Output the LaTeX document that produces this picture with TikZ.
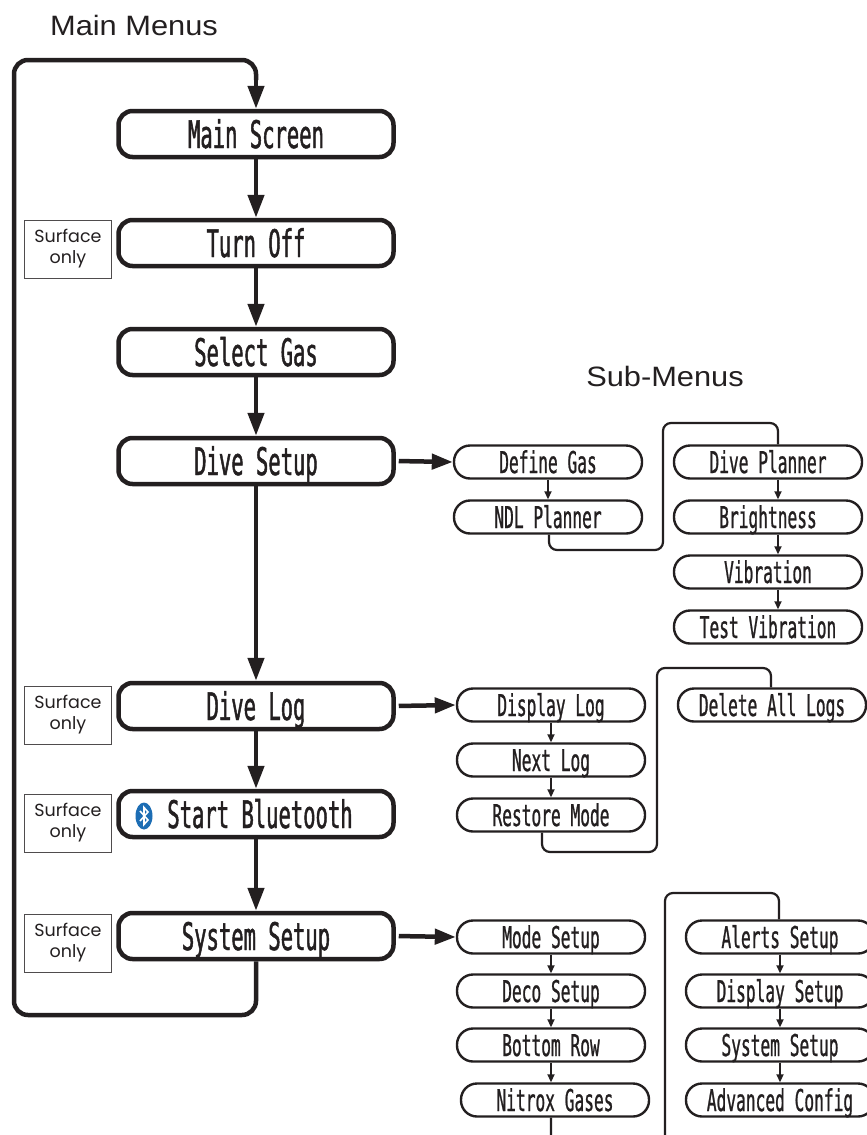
\documentclass[tikz,border=0pt]{standalone}
\usepackage{fontspec}
\usetikzlibrary{arrows.meta,calc,shapes.geometric}
\newfontfamily\lcdfont[FakeStretch=0.54, FakeBold=0.8]{DejaVu Sans Mono}
\newfontfamily\lcdmainfont[FakeStretch=0.54, FakeBold=1.2]{DejaVu Sans Mono}
\newfontfamily\smallsans{Poppins}
\newfontfamily\headfont[FakeStretch=1.1]{Liberation Sans}
\definecolor{ink}{HTML}{231F20}
\definecolor{btblue}{HTML}{1C6DB4}
\tikzset{
  mainbox/.style={draw=ink, line width=4.5pt, rounded corners=14pt, minimum width=275pt, minimum height=46pt, inner sep=0pt, text height=28pt, text depth=0pt, font=\fontsize{38}{40}\selectfont\lcdmainfont, text=ink},
  subbox/.style={draw=ink, line width=2.4pt, rounded corners=16pt, minimum width=188pt, minimum height=33pt, inner sep=0pt, text height=22pt, text depth=0pt, font=\fontsize{30}{32}\selectfont\lcdfont, text=ink},
  surfbox/.style={draw=ink!80, line width=1pt, minimum width=87pt, minimum height=58pt, inner sep=0pt, align=center, font=\fontsize{17.5}{21}\selectfont\smallsans, text=ink},
  mainarrow/.style={draw=ink, line width=4.5pt, -{Triangle[length=23pt,width=16pt]}},
  sidearrow/.style={draw=ink, line width=4.5pt, -{Triangle[length=21pt,width=15pt]}, shorten <=3pt},
  mainline/.style={draw=ink, line width=4.5pt, rounded corners=14pt},
  subarrow/.style={draw=ink, line width=1.8pt, -{Triangle[length=8pt,width=7pt]}},
  subline/.style={draw=ink, line width=2.2pt, rounded corners=8pt},
  heading/.style={font=\fontsize{28}{30}\selectfont\headfont, text=ink, inner sep=0pt}
}
\begin{document}
\begin{tikzpicture}[x=1pt, y=-1pt]
\useasboundingbox (0,0) rectangle (867,1135);
\clip (0,0) rectangle (867,1135);
\fill[white] (0,0) rectangle (867,1135);

% headings
\node[heading] (hmain) at (134,25) {Main Menus};
\node[heading] (hsub) at (665,376) {Sub-Menus};

% main column
\node[mainbox] (ms) at (256,134) {Main Screen};
\node[mainbox] (to) at (256,243) {Turn Off};
\node[mainbox] (sg) at (256,352) {Select Gas};
\node[mainbox] (ds) at (256,461) {Dive Setup};
\node[mainbox] (dl) at (256,706) {Dive Log};
\node[mainbox] (bt) at (256,814) {\hspace{8pt}Start Bluetooth};
\node[mainbox] (ss) at (256,936) {System Setup};

% bluetooth icon
\node[draw=none, fill=btblue, ellipse, minimum width=17pt, minimum height=27pt, inner sep=0pt] (btlogo) at (144,816) {};
\draw[white, line width=1.6pt, line join=miter] ($(btlogo.center)+(-4,-5)$) -- ($(btlogo.center)+(4,4)$) -- ($(btlogo.center)+(0,8.5)$) -- ($(btlogo.center)+(0,-8.5)$) -- ($(btlogo.center)+(4,-4)$) -- ($(btlogo.center)+(-4,5)$);

% surface only boxes
\node[surfbox] (s1) at (68,249) {Surface\\only};
\node[surfbox] (s2) at (68,715) {Surface\\only};
\node[surfbox] (s3) at (68,823) {Surface\\only};
\node[surfbox] (s4) at (68,943) {Surface\\only};

% main arrows
\draw[mainarrow] (ms.south) -- (to.north);
\draw[mainarrow] (to.south) -- (sg.north);
\draw[mainarrow] (sg.south) -- (ds.north);
\draw[mainarrow] (ds.south) -- (dl.north);
\draw[mainarrow] (dl.south) -- (bt.north);
\draw[mainarrow] (bt.south) -- (ss.north);

% loop
\coordinate (lbr) at (256,1015);
\coordinate (lbl) at (14,1015);
\coordinate (ltl) at (14,60);
\coordinate (ltr) at (256,60);
\draw[mainline] (ss.south) -- (lbr) -- (lbl) -- (ltl) -- (ltr) -- ($(ltr)+(0,20)$);
\draw[mainarrow] ($(ltr)+(0,18)$) -- (ms.north);

% sub menus: dive setup
\node[subbox] (dg) at (548,462) {Define Gas};
\node[subbox] (ndl) at (548,517) {NDL Planner};
\node[subbox] (dp) at (768,462) {Dive Planner};
\node[subbox] (br) at (768,517) {Brightness};
\node[subbox] (vib) at (768,572) {Vibration};
\node[subbox] (tv) at (768,627) {Test Vibration};

% sub menus: dive log
\node[subbox] (dlg) at (551,705) {Display Log};
\node[subbox] (nl) at (551,760) {Next Log};
\node[subbox] (rm) at (551,815) {Restore Mode};
\node[subbox] (dal) at (772,705) {Delete All Logs};

% sub menus: system setup
\node[subbox] (mode) at (551,937) {Mode Setup};
\node[subbox] (deco) at (551,991) {Deco Setup};
\node[subbox] (bot) at (551,1045) {Bottom Row};
\node[subbox] (nit) at (555,1100) {Nitrox Gases};
\node[subbox] (al) at (780,937) {Alerts Setup};
\node[subbox] (disp) at (780,991) {Display Setup};
\node[subbox] (sys2) at (780,1045) {System Setup};
\node[subbox] (adv) at (780,1100) {Advanced Config};

% main to sub arrows
\draw[sidearrow] (ds.east) -- (dg.west);
\draw[sidearrow] (dl.east) -- (dlg.west);
\draw[sidearrow] (ss.east) -- (mode.west);

% sub arrows
\draw[subarrow] (dg.south) -- (ndl.north);
\draw[subarrow] ($(dp.south)+(10,0)$) -- ($(br.north)+(10,0)$);
\draw[subarrow] ($(br.south)+(10,0)$) -- ($(vib.north)+(10,0)$);
\draw[subarrow] ($(vib.south)+(10,0)$) -- ($(tv.north)+(10,0)$);
\draw[subarrow] (dlg.south) -- (nl.north);
\draw[subarrow] (nl.south) -- (rm.north);
\draw[subarrow] (mode.south) -- (deco.north);
\draw[subarrow] (deco.south) -- (bot.north);
\draw[subarrow] (bot.south) -- (nit.north -| bot.south);
\draw[subarrow] (al.south) -- (disp.north);
\draw[subarrow] (disp.south) -- (sys2.north);
\draw[subarrow] (sys2.south) -- (adv.north);

% column-link connectors
\coordinate (c1a) at (549,550);
\coordinate (c1b) at (663,550);
\coordinate (c1c) at (663,423);
\coordinate (c1d) at (778,423);
\draw[subline] (ndl.south -| c1a) -- (c1a) -- (c1b) -- (c1c) -- (c1d) -- ($(dp.north)+(10,0)$);

\coordinate (c2a) at (542,852);
\coordinate (c2b) at (657,852);
\coordinate (c2c) at (657,668);
\coordinate (c2d) at (771,668);
\draw[subline] (rm.south -| c2a) -- (c2a) -- (c2b) -- (c2c) -- (c2d) -- (dal.north -| c2d);

\coordinate (c3a) at (551,1150);
\coordinate (c3b) at (665,1150);
\coordinate (c3c) at (665,893);
\coordinate (c3d) at (779,893);
\draw[subline] (nit.south -| c3a) -- (c3a) -- (c3b) -- (c3c) -- (c3d) -- (al.north -| c3d);
\end{tikzpicture}
\end{document}
